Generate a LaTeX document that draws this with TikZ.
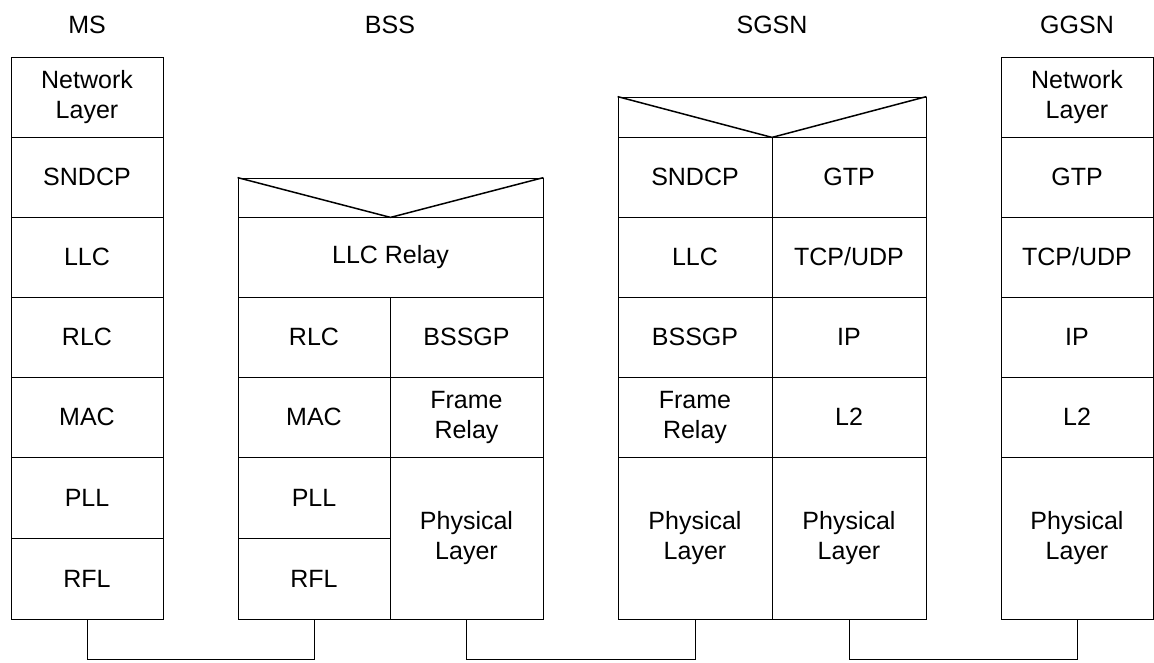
\documentclass[tikz,border=0pt]{standalone}
\usepackage{fontspec}
\setmainfont{Liberation Sans}
\begin{document}
\begin{tikzpicture}[x=1pt,y=-1pt,
  cell/.style={draw=black,line width=0.8pt,inner sep=0pt,align=center,
    font=\fontsize{25}{30}\selectfont},
  title/.style={font=\fontsize{25}{30}\selectfont,inner sep=0pt},
  vee/.style={line width=1.5pt,line join=miter},
  bus/.style={line width=0.9pt}]
\newcommand{\lyr}[6]{\node[cell,minimum width={#4-#2},minimum height={#5-#3}] (#1) at ({(#2+#4)/2},{(#3+#5)/2}) {#6};}
\useasboundingbox (0,0) rectangle (1154,662);
% titles
\node[title] (tms) at (87,25) {MS};
\node[title] (tbss) at (390,25) {BSS};
\node[title] (tsgsn) at (772,25) {SGSN};
\node[title] (tggsn) at (1077,25) {GGSN};
% MS
\lyr{msnet}{11}{57}{163}{137}{Network\\Layer}
\lyr{mssnd}{11}{137}{163}{217}{SNDCP}
\lyr{msllc}{11}{217}{163}{297}{LLC}
\lyr{msrlc}{11}{297}{163}{377}{RLC}
\lyr{msmac}{11}{377}{163}{457}{MAC}
\lyr{mspll}{11}{457}{163}{538}{PLL}
\lyr{msrfl}{11}{538}{163}{619}{RFL}
% BSS
\lyr{bsshead}{238}{178}{543}{217}{}
\draw[vee] (bsshead.north west) -- (bsshead.south) -- (bsshead.north east);
\lyr{bssllc}{238}{217}{543}{297}{LLC Relay}
\lyr{bssrlc}{238}{297}{390}{377}{RLC}
\lyr{bssbssgp}{390}{297}{543}{377}{BSSGP}
\lyr{bssmac}{238}{377}{390}{457}{MAC}
\lyr{bssfr}{390}{377}{543}{457}{Frame\\Relay}
\lyr{bsspll}{238}{457}{390}{538}{PLL}
\lyr{bssrfl}{238}{538}{390}{619}{RFL}
\lyr{bssphy}{390}{457}{543}{619}{Physical\\Layer}
% SGSN
\lyr{sghead}{618}{97}{926}{137}{}
\draw[vee] (sghead.north west) -- (sghead.south) -- (sghead.north east);
\lyr{sgsnd}{618}{137}{772}{217}{SNDCP}
\lyr{sggtp}{772}{137}{926}{217}{GTP}
\lyr{sgllc}{618}{217}{772}{297}{LLC}
\lyr{sgtcp}{772}{217}{926}{297}{TCP/UDP}
\lyr{sgbssgp}{618}{297}{772}{377}{BSSGP}
\lyr{sgip}{772}{297}{926}{377}{IP}
\lyr{sgfr}{618}{377}{772}{457}{Frame\\Relay}
\lyr{sgltwo}{772}{377}{926}{457}{L2}
\lyr{sgphya}{618}{457}{772}{619}{Physical\\Layer}
\lyr{sgphyb}{772}{457}{926}{619}{Physical\\Layer}
% GGSN
\lyr{ggnet}{1001}{57}{1153}{137}{Network\\Layer}
\lyr{gggtp}{1001}{137}{1153}{217}{GTP}
\lyr{ggtcp}{1001}{217}{1153}{297}{TCP/UDP}
\lyr{ggip}{1001}{297}{1153}{377}{IP}
\lyr{ggltwo}{1001}{377}{1153}{457}{L2}
\lyr{ggphy}{1001}{457}{1153}{619}{Physical\\Layer}
% links
\draw[bus] (msrfl.south) -- ++(0,40) -| (bssrfl.south);
\draw[bus] (bssphy.south) -- ++(0,40) -| (sgphya.south);
\draw[bus] (sgphyb.south) -- ++(0,40) -| (ggphy.south);
\end{tikzpicture}
\end{document}
